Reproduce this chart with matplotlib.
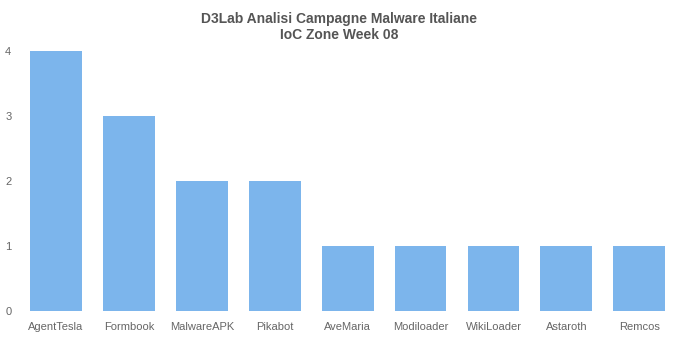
import matplotlib.pyplot as plt
import numpy as np

# dati
famiglie = ['AgentTesla', 'Formbook', 'MalwareAPK', 'Pikabot', 'AveMaria',
            'Modiloader', 'WikiLoader', 'Astaroth', 'Remcos']
conteggi = [4, 3, 2, 2, 1, 1, 1, 1, 1]
yticks = [0, 1, 2, 3, 4]

plt.rcParams['font.family'] = ['Liberation Sans', 'DejaVu Sans']

fig = plt.figure(figsize=(6.78, 3.39), dpi=100)
ax = fig.add_axes([0.029, 0.0826, 0.9676, 0.767])

x = np.arange(len(famiglie))
ax.bar(x, conteggi, width=0.71, color='#7cb5ec')

ax.set_xlim(-0.5, len(famiglie) - 0.5)
ax.set_ylim(0, 4)
ax.set_xticks(x)
ax.set_xticklabels(famiglie, fontsize=8, color='#666666')
ax.set_yticks(yticks)
ax.set_yticklabels([str(v) for v in yticks], fontsize=8, color='#666666')
ax.tick_params(axis='both', length=0)
ax.tick_params(axis='x', pad=8)
ax.tick_params(axis='y', pad=6)
for s in ax.spines.values():
    s.set_visible(False)

fig.text(0.5, 0.965, 'D3Lab Analisi Campagne Malware Italiane\nIoC Zone Week 08',
         ha='center', va='top', fontsize=10, fontweight='bold', color='#555555',
         linespacing=1.15)

fig.savefig('out.png', dpi=100)
